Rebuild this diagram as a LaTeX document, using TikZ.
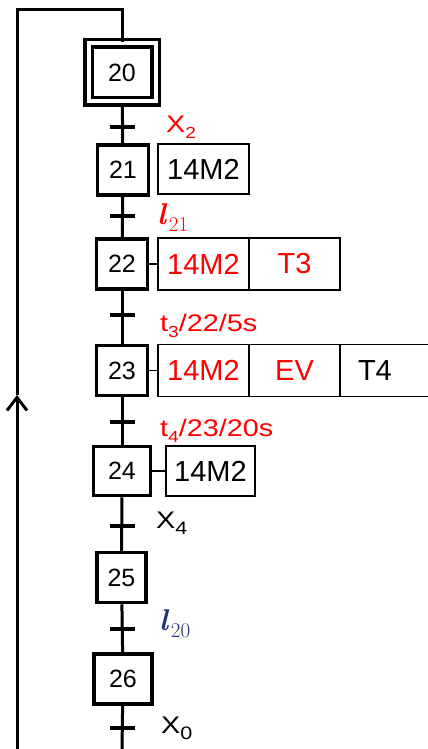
\documentclass[tikz,border=0pt]{standalone}
\usepackage{fontspec}
\newfontfamily\arialike{Liberation Sans}
\newfontfamily\lblfont[FakeStretch=1.2]{Liberation Sans}
\usetikzlibrary{arrows.meta,positioning}
\definecolor{GrafRed}{RGB}{255,0,0}
\definecolor{InkBlue}{RGB}{35,50,115}
\newcommand\lowsub[2][16]{\raisebox{-6pt}{\fontsize{#1}{#1}\selectfont #2}}
\newcommand\lvar[1]{\textbf{\textit{l}}\kern1.5pt\raisebox{-7pt}{\fontsize{21}{21}\selectfont #1}}
\tikzset{
  stepbox/.style={draw,line width=3.5pt,minimum width=51pt,minimum height=50pt,
    inner sep=0pt,fill=white,font=\arialike\fontsize{25}{25}\selectfont},
  initstep/.style={stepbox,double,double distance=4pt,minimum width=67pt,minimum height=58pt},
  actbox/.style={draw,line width=1.8pt,minimum width=91pt,minimum height=52pt,
    inner sep=0pt,outer sep=0pt,font=\arialike\fontsize{29}{29}\selectfont},
  link/.style={line width=3pt},
  actlink/.style={line width=1.8pt},
  bar/.style={line width=3.5pt},
  lbl/.style={anchor=base west,inner sep=0pt,font=\lblfont\fontsize{24}{24}\selectfont},
  mlbl/.style={anchor=base west,inner sep=0pt,font=\fontsize{30}{30}\selectfont}
}

\begin{document}
\begin{tikzpicture}[x=1pt,y=-1pt,>=Latex]
  \useasboundingbox (0,0) rectangle (428,749);
  % steps
  \node[initstep] (s20) at (122,72.5) {20};
  \node[stepbox] (s21) at (123,170) {21};
  \node[stepbox] (s22) at (122,264) {22};
  \node[stepbox] (s23) at (122,370.5) {23};
  \node[stepbox,minimum width=57pt,minimum height=49pt] (s24) at (122,471) {24};
  \node[stepbox,minimum width=49pt] (s25) at (121.5,577.5) {25};
  \node[stepbox,minimum width=58pt] (s26) at (123,679) {26};
  % actions
  \node[actbox,anchor=west,minimum height=50pt] (a21) at (158,169) {14M2};
  \node[actbox,anchor=west,text=GrafRed] (a22) at (158,264) {14M2};
  \node[actbox,right=0pt of a22,text=GrafRed] (a22t) {T3};
  \node[actbox,anchor=west,text=GrafRed] (a23) at (158,370.5) {14M2};
  \node[actbox,right=0pt of a23,text=GrafRed] (a23e) {EV};
  \node[actbox,right=0pt of a23e,minimum width=100pt,text width=64pt,
    inner xsep=18pt,align=left] (a23t) {T4};
  \node[actbox,anchor=west,minimum width=89pt,minimum height=50pt] (a24) at (166,471) {14M2};
  % sequence
  \draw[link] (s20) -- (s21);
  \draw[link] (s21) -- (s22);
  \draw[link] (s22) -- (s23);
  \draw[link] (s23) -- (s24);
  \draw[link] (s24) -- (s25);
  \draw[link] (s25) -- (s26);
  \draw[actlink] (s22) -- (a22);
  \draw[actlink] (s23) -- (a23);
  \draw[actlink] (s24) -- (a24);
  % loop back to 20
  \coordinate (bot) at (122,749);
  \coordinate (botl) at (17,749);
  \coordinate (tip) at (17,395);
  \coordinate (topl) at (17,10);
  \coordinate (topr) at (122,10);
  \draw[link] (s26) -- (bot);
  \draw[link,-{Straight Barb[length=13pt,width=20pt]}] (botl) -- (tip);
  \draw[link] (tip) -- (topl) -- (topr) -- (s20);
  % transitions
  \coordinate (t1) at (122,127);
  \coordinate (t2) at (122,216);
  \coordinate (t3) at (122,315);
  \coordinate (t4) at (122,422);
  \coordinate (t5) at (122,526);
  \coordinate (t6) at (122,629);
  \coordinate (t7) at (122,728);
  \draw[bar] ([xshift=-12.5pt]t1) -- ([xshift=12.5pt]t1);
  \draw[bar] ([xshift=-12.5pt]t2) -- ([xshift=12.5pt]t2);
  \draw[bar] ([xshift=-12.5pt]t3) -- ([xshift=12.5pt]t3);
  \draw[bar] ([xshift=-12.5pt]t4) -- ([xshift=12.5pt]t4);
  \draw[bar] ([xshift=-12.5pt]t5) -- ([xshift=12.5pt]t5);
  \draw[bar] ([xshift=-12.5pt]t6) -- ([xshift=12.5pt]t6);
  \draw[bar] ([xshift=-12.5pt]t7) -- ([xshift=12.5pt]t7);
  % receptivities
  \node[lbl,text=GrafRed] (r1) at (166,132) {X\lowsub{2}};
  \node[mlbl,text=GrafRed] (r2) at (157,224) {\lvar{21}};
  \node[lbl,text=GrafRed] (r3) at (160,331) {t\lowsub{3}/22/5s};
  \node[lbl,text=GrafRed] (r4) at (160,436) {t\lowsub{4}/23/20s};
  \node[lbl] (r5) at (156,528) {X\lowsub[18]{4}};
  \node[mlbl,text=InkBlue] (r6) at (159,630) {\lvar{20}};
  \node[lbl] (r7) at (161,733) {X\lowsub[18]{0}};
\end{tikzpicture}
\end{document}
